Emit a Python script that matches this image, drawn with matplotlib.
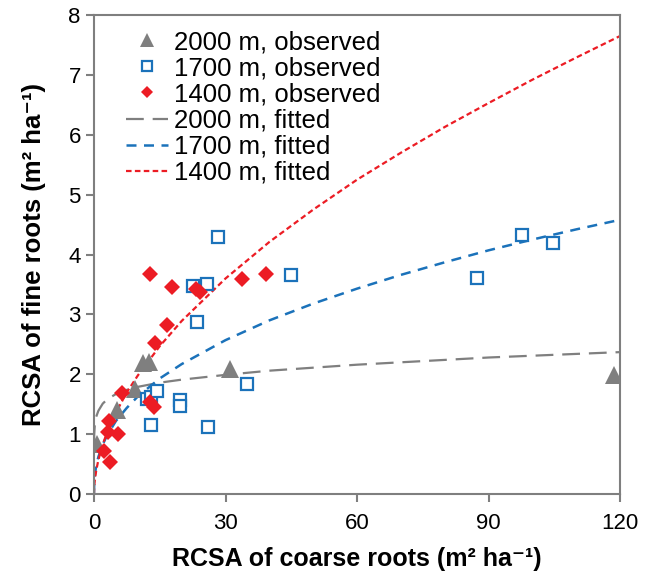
#!/usr/bin/env python3
import matplotlib
matplotlib.use("Agg")
import matplotlib.pyplot as plt

plt.rcParams.update({"font.family": ["Liberation Sans", "DejaVu Sans"], "font.size": 16})

# observed points
x2000 = [0.6, 5.2, 9.3, 11.2, 12.6, 31.0, 118.7]
y2000 = [0.84, 1.41, 1.76, 2.18, 2.21, 2.09, 1.98]

x1700 = [28.3, 22.6, 25.7, 23.5, 35.0, 12.0, 13.0, 14.3, 19.7, 19.7, 13.0, 25.9, 44.9, 87.3, 97.6, 104.8]
y1700 = [4.30, 3.47, 3.50, 2.87, 1.83, 1.59, 1.62, 1.72, 1.57, 1.47, 1.16, 1.12, 3.65, 3.61, 4.32, 4.19]

x1400 = [12.8, 17.9, 23.2, 24.1, 33.8, 39.2, 16.6, 13.9, 6.5, 12.8, 13.7, 3.5, 3.3, 5.5, 2.3, 3.6]
y1400 = [3.68, 3.46, 3.43, 3.37, 3.59, 3.68, 2.83, 2.52, 1.69, 1.54, 1.46, 1.22, 1.04, 1.00, 0.72, 0.54]

# fitted curves
fit_x = [0, 0.05, 0.2, 0.5, 1, 2, 3, 5, 7.5, 10, 15, 20, 30, 40, 50, 60, 70, 80, 90, 100, 110, 120]
fit2000 = [0.85, 1.00, 1.17, 1.29, 1.39, 1.51, 1.58, 1.67, 1.74, 1.79, 1.86, 1.91, 1.99, 2.06, 2.11, 2.16, 2.20, 2.24, 2.28, 2.31, 2.34, 2.37]
fit1700 = [0, 0.18, 0.32, 0.47, 0.62, 0.83, 0.98, 1.22, 1.44, 1.63, 1.93, 2.17, 2.57, 2.90, 3.18, 3.43, 3.66, 3.87, 4.07, 4.25, 4.42, 4.58]
fit1400 = [0, 0.12, 0.24, 0.39, 0.57, 0.83, 1.03, 1.36, 1.70, 1.98, 2.47, 2.89, 3.60, 4.21, 4.75, 5.25, 5.70, 6.13, 6.53, 6.92, 7.29, 7.65]

c_gray = "#7F7F7F"
c_blue = "#1B72BA"
c_red = "#EC1C24"

fig = plt.figure(figsize=(6.5, 5.78), dpi=100)
ax = fig.add_axes([0.1446, 0.1453, 0.8094, 0.8287])

ax.plot(x2000, y2000, "^", color=c_gray, markersize=13, markeredgewidth=0,
        label="2000 m, observed", zorder=3)
ax.plot(x1700, y1700, "s", color=c_blue, markerfacecolor="white", markersize=9,
        markeredgewidth=1.6, label="1700 m, observed", zorder=3)
ax.plot(x1400, y1400, "D", color=c_red, markersize=8.5, markeredgewidth=0,
        label="1400 m, observed", zorder=4)
ax.plot(fit_x, fit2000, color=c_gray, linewidth=1.6, dashes=(8, 4),
        label="2000 m, fitted", zorder=2)
ax.plot(fit_x, fit1700, color=c_blue, linewidth=1.8, dashes=(4, 3),
        label="1700 m, fitted", zorder=2)
ax.plot(fit_x, fit1400, color=c_red, linewidth=1.6, dashes=(2.5, 1.5),
        label="1400 m, fitted", zorder=2)

ax.set_xlim(0, 120)
ax.set_ylim(0, 8)
ax.set_xticks([0, 30, 60, 90, 120])
ax.set_yticks(range(0, 9))
ax.set_xlabel("RCSA of coarse roots (m² ha⁻¹)", fontweight="bold", fontsize=18, labelpad=9)
ax.set_ylabel("RCSA of fine roots (m² ha⁻¹)", fontweight="bold", fontsize=18.5, labelpad=16)

for s in ax.spines.values():
    s.set_color(c_gray)
    s.set_linewidth(1.5)
ax.tick_params(direction="out", length=6, width=1.5, color=c_gray, labelsize=16)
ax.tick_params(axis="x", pad=8)

ax.legend(loc="upper left", bbox_to_anchor=(0.06, 0.968), frameon=False, fontsize=18.5,
          handlelength=1.65, handletextpad=0.25, labelspacing=0.08, borderpad=0,
          borderaxespad=0, markerscale=0.75)

fig.savefig("out.png", dpi=100)
